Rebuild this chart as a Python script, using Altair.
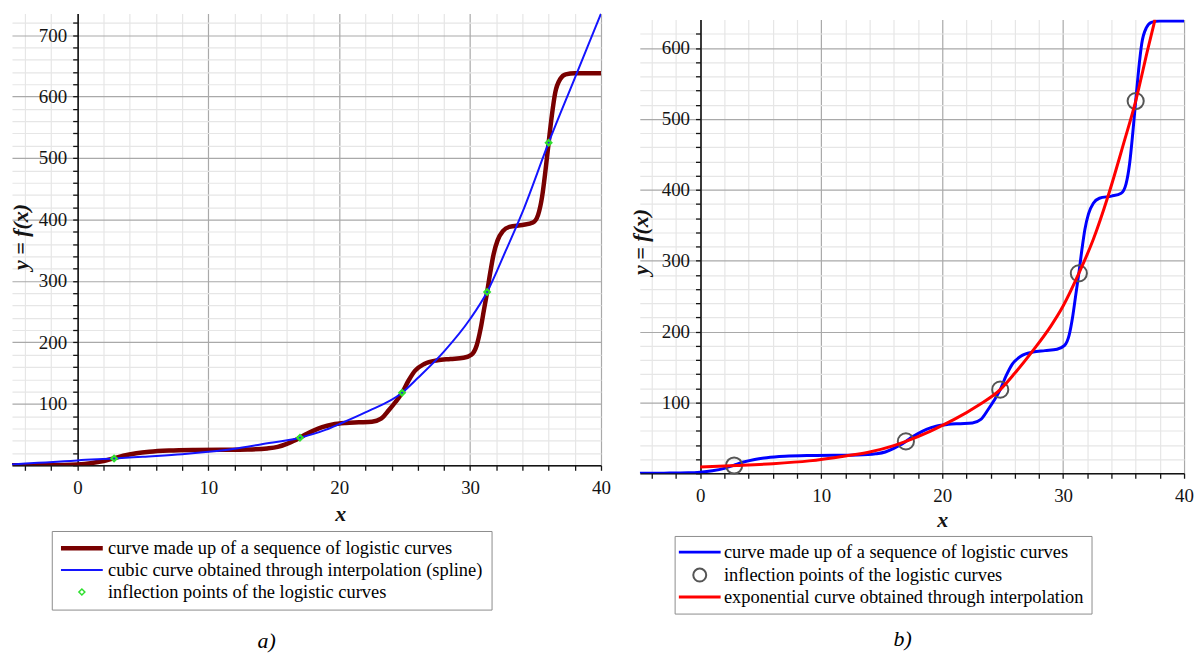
import altair as alt
import pandas as pd

# ---------------- data ----------------
logistic_x = [-5, -3, -1, 0, 1, 2, 2.8, 3.5, 4.5, 5.5, 7, 9, 11, 13, 14.5, 15.3, 16, 16.5,
              17, 17.5, 18, 18.7, 19.5, 20.5, 21.5, 22.5, 23.2, 23.8, 24.3, 24.8, 25.3, 25.8,
              26.5, 27.5, 28.5, 29.5, 30.1, 30.5, 30.8, 31.05, 31.3, 31.55, 31.8, 32.1, 32.5,
              33, 34, 34.8, 35.2, 35.5, 35.75, 36, 36.25, 36.5, 36.9, 37.3, 38, 40]
logistic_y = [0, 0.2, 0.6, 1.5, 3.5, 7, 11.5, 15.5, 19.5, 22, 24, 25, 25.3, 25.8, 27.5, 30, 35, 39.5,
              45, 51, 56, 62, 66.5, 69, 70, 71, 76, 90, 103, 118, 138, 154,
              165, 171, 173, 175, 180, 195, 222, 252, 282, 315, 344, 366, 381,
              388, 391, 395, 408, 437, 478, 525, 570, 606, 629, 636, 638, 638]

inflect_x = [2.8, 17.0, 24.8, 31.3, 36.0]
inflect_y = [11, 45, 118, 282, 525]

spline_x = [-5, -3, -1, 0, 2.8, 5, 8, 10, 12, 14, 17, 19, 20, 22, 24.8, 26, 28, 30, 31.3,
            32.7, 34, 36, 38, 40]
spline_y = [1.5, 4, 6.5, 8, 11, 14, 18, 22, 27, 34, 45, 58, 67, 86, 118, 142, 185, 238, 282,
            348, 412, 525, 630, 735]

expo_x = [0, 3, 6, 9, 12, 14, 16, 17, 19, 20.3, 21, 23, 24.8, 26, 27.5, 29, 30, 31.3, 32.5,
          33.7, 35, 36, 37, 37.6]
expo_y = [9, 11, 13.5, 17.5, 24.5, 30, 39, 45, 59, 70, 76, 96, 118, 141, 173, 208, 236, 282, 330,
          390, 465, 525, 598, 640]

x_ticks = list(range(-4, 41, 2))
y_ticks_a = list(range(0, 721, 20))
y_ticks_b = list(range(0, 621, 20))

L_LOG = "curve made up of a sequence of logistic curves"
L_SPL = "cubic curve obtained through interpolation (spline)"
L_INF = "inflection points of the logistic curves"
L_EXP = "exponential curve obtained through interpolation"

# ---------------- styling ----------------
SERIF = "Liberation Serif"
INK = "#141414"
LINE_PATH = "M-7,0H7"
CIRCLE_PATH = "M2.17,0A2.17,2.17,0,1,1,-2.17,0A2.17,2.17,0,1,1,2.17,0"
GRID_COLOR = {"condition": {"test": "datum.value % 100 === 0", "value": "#a9a9a9"}, "value": "#e6e6e6"}
GRID_COLOR_X = {"condition": {"test": "datum.value % 10 === 0", "value": "#a9a9a9"}, "value": "#e6e6e6"}


def x_axis(title_x, title_y):
    return alt.Axis(values=x_ticks, labelExpr="datum.value % 10 === 0 ? datum.label : ''",
                    grid=True, gridColor=GRID_COLOR_X, gridWidth=1.2,
                    domainColor=INK, domainWidth=1.6, tickColor=INK, tickSize=5, tickWidth=1.3,
                    labelFont=SERIF, labelFontSize=19, labelColor=INK, labelPadding=8,
                    labelFlush=False, labelOverlap=False,
                    title="x", titleFont=SERIF, titleFontSize=22, titleFontStyle="italic",
                    titleFontWeight="bold", titleColor=INK, titleX=title_x, titleY=title_y,
                    titleAlign="center", titleBaseline="middle")


def y_axis(values, offset, title_x, title_y):
    return alt.Axis(values=values,
                    labelExpr="datum.value % 100 === 0 && datum.value > 0 ? datum.label : ''",
                    grid=True, gridColor=GRID_COLOR, gridWidth=1.2, offset=offset,
                    domainColor=INK, domainWidth=1.6, tickColor=INK, tickSize=5, tickWidth=1.3,
                    labelFont=SERIF, labelFontSize=19, labelColor=INK, labelPadding=6,
                    labelFlush=False, labelOverlap=False,
                    title="y = f(x)", titleFont=SERIF, titleFontSize=22, titleFontStyle="italic",
                    titleFontWeight="bold", titleColor=INK, titleAngle=270,
                    titleX=title_x, titleY=title_y, titleAlign="center", titleBaseline="middle")


def legend(lx, ly, sym_off, lab_off, row_pad, pad):
    return alt.Legend(title=None, orient="none", legendX=lx, legendY=ly,
                      labelFont=SERIF, labelFontSize=18.5, labelColor="#000000", labelLimit=900,
                      symbolSize=36, symbolOffset=sym_off, labelOffset=lab_off, rowPadding=row_pad,
                      padding=pad, strokeColor="#8c8c8c", fillColor="#ffffff", cornerRadius=0)


def frame(xs, ys, name):
    return pd.DataFrame({"x": xs, "y": ys, "series": name})


# ---------------- panel a ----------------
dom_a = [L_LOG, L_SPL, L_INF]
leg_a = legend(40, 520, 13, 17, 3, 8)
xa = alt.X("x:Q", scale=alt.Scale(domain=[-5, 40], nice=False, zero=False), axis=x_axis(330, 48))
ya = alt.Y("y:Q", scale=alt.Scale(domain=[0, 735], nice=False), axis=y_axis(y_ticks_a, -66, -57, 224))
col_a = alt.Color("series:N", scale=alt.Scale(domain=dom_a, range=["#780000", "#1414ff", "#2ee02e"]), legend=leg_a)
sw_a = alt.StrokeWidth("series:N", scale=alt.Scale(type="ordinal", domain=dom_a, range=[4.5, 2, 1.5]), legend=leg_a)
sh_a = alt.Shape("series:N", scale=alt.Scale(domain=dom_a, range=[LINE_PATH, LINE_PATH, "diamond"]), legend=leg_a)

a_log = alt.Chart(frame(logistic_x, logistic_y, L_LOG)).mark_line(interpolate="monotone", clip=True).encode(
    x=xa, y=ya, color=col_a, strokeWidth=sw_a)
a_spl = alt.Chart(frame(spline_x, spline_y, L_SPL)).mark_line(interpolate="monotone", clip=True).encode(
    x=xa, y=ya, color=col_a, strokeWidth=sw_a)
a_pts = alt.Chart(frame(inflect_x, inflect_y, L_INF)).mark_point(size=30, strokeWidth=2.2, opacity=1).encode(
    x=xa, y=ya, color=col_a, shape=sh_a)

panel_a = alt.layer(a_log, a_spl, a_pts).properties(
    width=592, height=454,
    title=alt.Title("a)", orient="bottom", font=SERIF, fontSize=22, fontStyle="italic",
                    fontWeight="normal", color="#000000", anchor="middle", dx=-40, offset=21))

# ---------------- panel b ----------------
dom_b = [L_LOG, L_INF, L_EXP]
leg_b = legend(35, 519, 9, 15, 2, 7)
xb = alt.X("x:Q", scale=alt.Scale(domain=[-5, 40], nice=False, zero=False), axis=x_axis(304, 46))
yb = alt.Y("y:Q", scale=alt.Scale(domain=[0, 640], nice=False), axis=y_axis(y_ticks_b, -61, -60, 223))
col_b = alt.Color("series:N", scale=alt.Scale(domain=dom_b, range=["#0000ff", "#555555", "#ff0000"]), legend=leg_b)
sw_b = alt.StrokeWidth("series:N", scale=alt.Scale(type="ordinal", domain=dom_b, range=[3, 2, 3]), legend=leg_b)
sh_b = alt.Shape("series:N", scale=alt.Scale(domain=dom_b, range=[LINE_PATH, CIRCLE_PATH, LINE_PATH]), legend=leg_b)

b_log = alt.Chart(frame(logistic_x, logistic_y, L_LOG)).mark_line(interpolate="monotone", clip=True).encode(
    x=xb, y=yb, color=col_b, strokeWidth=sw_b)
b_pts = alt.Chart(frame(inflect_x, inflect_y, L_INF)).mark_point(size=56, strokeWidth=2, opacity=1).encode(
    x=xb, y=yb, color=col_b, shape=sh_b)
b_exp = alt.Chart(frame(expo_x, expo_y, L_EXP)).mark_line(interpolate="monotone", clip=True).encode(
    x=xb, y=yb, color=col_b, strokeWidth=sw_b)

panel_b = alt.layer(b_log, b_pts, b_exp).properties(width=547, height=456)

# invisible strip that lowers panel b a few pixels relative to panel a
spacer = alt.Chart(pd.DataFrame({"s": [0]})).mark_rule(opacity=0).encode(
    x=alt.value(0), x2=alt.value(1), y=alt.value(0)).properties(width=547, height=1)

col_right = alt.vconcat(spacer, panel_b, spacing=5).resolve_scale(
    color="independent", shape="independent", strokeWidth="independent").properties(
    title=alt.Title("b)", orient="bottom", font=SERIF, fontSize=22, fontStyle="italic",
                    fontWeight="normal", color="#000000", anchor="middle", dx=-9, offset=15))

chart = alt.hconcat(panel_a, col_right, spacing=19).resolve_scale(
    color="independent", shape="independent", strokeWidth="independent",
    x="independent", y="independent").properties(
    padding={"left": 2, "top": 4, "right": 0, "bottom": 0},
    background="#ffffff").configure_view(stroke=None)

chart.save("out.html", embed_options={"renderer": "svg", "actions": False})
